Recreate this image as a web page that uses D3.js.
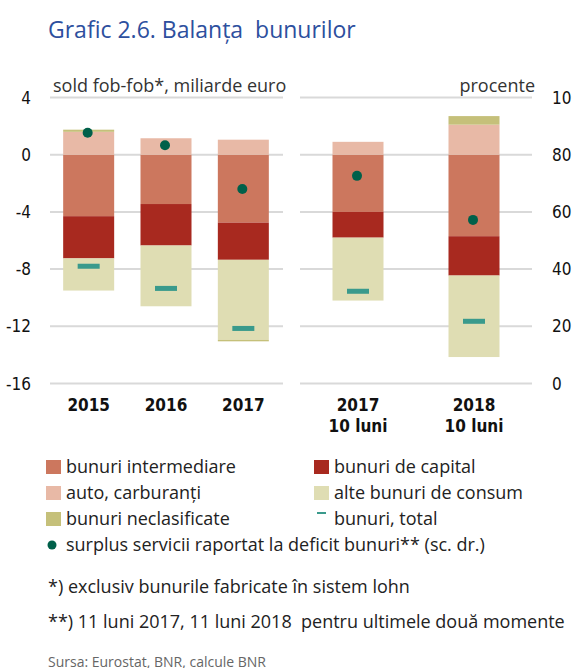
<!DOCTYPE html>
<html>
<head>
<meta charset="utf-8">
<script src="https://cdn.jsdelivr.net/npm/d3@7"></script>
<style>
  body { margin: 0; background: #fff; }
  svg { font-family: "Open Sans", "Noto Sans", sans-serif; }
  .tick-lbl { font-family: "Liberation Sans Narrow", "DejaVu Sans Condensed", sans-serif; font-size: 17px; fill: #111; }
</style>
</head>
<body>
<svg width="572" height="668"></svg>
<script>
// categories
const yearsLeft = ["2015", "2016", "2017"];
const yearsRight = ["2017|10 luni", "2018|10 luni"];

// series values, miliarde euro (stacked), left panel then right panel
const intermediare = [-4.3, -3.45, -4.75, -4.0, -5.7];
const capital = [-2.95, -2.9, -2.6, -1.8, -2.75];
const alteConsum = [-2.25, -4.25, -5.6, -4.4, -5.7];
const auto = [1.6, 1.15, 1.05, 0.9, 2.1];
const neclasificate = [0.15, 0.0, -0.1, 0.0, 0.6];
const totalBunuri = [-7.8, -9.35, -12.15, -9.55, -11.65];
// surplus servicii / deficit bunuri, procente (right axis)
const surplusPct = [87.7, 83.3, 68.0, 72.6, 57.2];

const leftTicks = [4, 0, -4, -8, -12, -16];
const rightTicks = [100, 80, 60, 40, 20, 0];

const colors = {
  intermediare: "#cc775e",
  capital: "#a8291f",
  auto: "#e8b9a6",
  alte: "#dfddb3",
  necl: "#c5c07a",
  total: "#3a9a8c",
  dot: "#00604a"
};

const svg = d3.select("svg");

// scales
const y = d3.scaleLinear().domain([-16, 4]).range([383.5, 97.5]);
const yR = d3.scaleLinear().domain([0, 100]).range([383.5, 97.5]);
const xL = d3.scalePoint().domain(yearsLeft).range([50, 282]).padding(0.5);
const xR = d3.scalePoint().domain(yearsRight).range([300, 532]).padding(0.5);
const barW = 51;

// title
svg.append("text")
  .attr("x", 48).attr("y", 38)
  .style("font-size", "23px")
  .style("fill", "#2d4f9e")
  .style("white-space", "pre")
  .text("Grafic 2.6. Balanța  bunurilor");

// gridlines
[[50, 283], [300, 532]].forEach(r => {
  svg.append("g").selectAll("line")
    .data(leftTicks).enter().append("line")
    .attr("x1", r[0]).attr("x2", r[1])
    .attr("y1", d => y(d)).attr("y2", d => y(d))
    .attr("stroke", "#d9d9d9").attr("stroke-width", 2);
});

// axis labels
svg.append("g").selectAll("text").data(leftTicks).enter().append("text")
  .attr("class", "tick-lbl")
  .attr("x", 31).attr("y", d => y(d) + 6)
  .attr("text-anchor", "end")
  .text(d => d);
svg.append("g").selectAll("text").data(rightTicks).enter().append("text")
  .attr("class", "tick-lbl")
  .attr("x", 552).attr("y", d => yR(d) + 6)
  .text(d => d);

svg.append("text").attr("x", 53).attr("y", 92)
  .style("font-size", "18px").style("fill", "#333")
  .text("sold fob-fob*, miliarde euro");
svg.append("text").attr("x", 535).attr("y", 92)
  .attr("text-anchor", "end")
  .style("font-size", "18px").style("fill", "#333")
  .text("procente");

// build rows
const cats = yearsLeft.concat(yearsRight);
const xPos = (c, i) => i < 3 ? xL(c) : xR(c);
const rows = cats.map((c, i) => ({
  cat: c, x: xPos(c, i),
  segs: [
    { v: intermediare[i], c: colors.intermediare },
    { v: capital[i], c: colors.capital },
    { v: alteConsum[i], c: colors.alte },
    { v: auto[i], c: colors.auto },
    { v: neclasificate[i], c: colors.necl }
  ]
}));

// stack positives up and negatives down
rows.forEach(r => {
  let pos = 0, neg = 0;
  r.segs.forEach(s => {
    if (s.v >= 0) { s.y0 = pos; s.y1 = pos + s.v; pos += s.v; }
    else { s.y0 = neg; s.y1 = neg + s.v; neg += s.v; }
  });
});

const bars = svg.append("g");
rows.forEach(r => {
  bars.selectAll(null).data(r.segs.filter(s => s.v !== 0)).enter().append("rect")
    .attr("x", r.x - barW / 2)
    .attr("width", barW)
    .attr("y", s => y(Math.max(s.y0, s.y1)))
    .attr("height", s => Math.abs(y(s.y0) - y(s.y1)))
    .attr("fill", s => s.c);
});

// total markers
svg.append("g").selectAll("rect").data(cats).enter().append("rect")
  .attr("x", (c, i) => xPos(c, i) - 11)
  .attr("y", (c, i) => y(totalBunuri[i]) - 2.5)
  .attr("width", 22).attr("height", 5)
  .attr("fill", colors.total);

// surplus dots (right axis)
svg.append("g").selectAll("circle").data(cats).enter().append("circle")
  .attr("cx", (c, i) => xPos(c, i) - 1)
  .attr("cy", (c, i) => yR(surplusPct[i]))
  .attr("r", 5)
  .attr("fill", colors.dot);

// x labels
cats.forEach((c, i) => {
  const parts = c.split("|");
  parts.forEach((p, k) => {
    svg.append("text").attr("class", "tick-lbl")
      .attr("x", xPos(c, i)).attr("y", 411 + k * 21)
      .attr("text-anchor", "middle")
      .style("font-weight", "bold")
      .text(p);
  });
});

// legend
const legendItems = [
  { t: "bunuri intermediare", c: colors.intermediare, type: "sq" },
  { t: "bunuri de capital", c: colors.capital, type: "sq" },
  { t: "auto, carburanți", c: colors.auto, type: "sq" },
  { t: "alte bunuri de consum", c: colors.alte, type: "sq" },
  { t: "bunuri neclasificate", c: colors.necl, type: "sq" },
  { t: "bunuri, total", c: colors.total, type: "line" }
];
const lg = svg.append("g");
legendItems.forEach((d, i) => {
  const lx = i % 2 === 0 ? 46 : 314;
  const ly = 467 + Math.floor(i / 2) * 26;
  if (d.type === "sq") {
    lg.append("rect").attr("x", lx).attr("y", ly - 7).attr("width", 15).attr("height", 14).attr("fill", d.c);
  } else {
    lg.append("rect").attr("x", lx + 3).attr("y", ly - 7).attr("width", 9).attr("height", 2).attr("fill", d.c);
  }
  lg.append("text").attr("x", lx + 20).attr("y", ly + 6)
    .style("font-size", "18px").style("fill", "#222").text(d.t);
});
lg.append("circle").attr("cx", 52).attr("cy", 545).attr("r", 4.5).attr("fill", colors.dot);
lg.append("text").attr("x", 66).attr("y", 551)
  .style("font-size", "18px").style("fill", "#222")
  .text("surplus servicii raportat la deficit bunuri** (sc. dr.)");

// footnotes
svg.append("text").attr("x", 48).attr("y", 593)
  .style("font-size", "18px").style("fill", "#222")
  .text("*) exclusiv bunurile fabricate în sistem lohn");
svg.append("text").attr("x", 48).attr("y", 628)
  .style("font-size", "18px").style("fill", "#222")
  .style("white-space", "pre")
  .text("**) 11 luni 2017, 11 luni 2018  pentru ultimele două momente");
svg.append("text").attr("x", 48).attr("y", 667)
  .style("font-size", "14px").style("fill", "#666")
  .text("Sursa: Eurostat, BNR, calcule BNR");
</script>
</body>
</html>
